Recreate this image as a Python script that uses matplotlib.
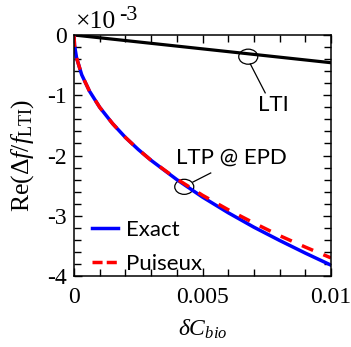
import matplotlib
matplotlib.use("Agg")
import matplotlib.pyplot as plt
from matplotlib.patches import Ellipse
from matplotlib.lines import Line2D
from matplotlib.ticker import MultipleLocator

# values (x in units of dC_bio, y in units of 1e-3)
dc = [0, 0.00002, 0.0001, 0.0003, 0.0006, 0.001, 0.0015, 0.002, 0.0025,
      0.003, 0.004, 0.005, 0.006, 0.007, 0.008, 0.009, 0.01]
exact = [0, -0.17, -0.38, -0.66, -0.93, -1.20, -1.47, -1.70, -1.90,
         -2.08, -2.40, -2.69, -2.95, -3.19, -3.41, -3.62, -3.82]
puiseux = [0, -0.17, -0.38, -0.66, -0.93, -1.20, -1.47, -1.70, -1.90,
           -2.08, -2.39, -2.66, -2.90, -3.12, -3.33, -3.52, -3.70]
lti_x = [0, 0.01]
lti_y = [0, -0.46]

xticks = [0, 0.005, 0.01]
xticklabels = ["0", "0.005", "0.01"]
yticks = [0, -1, -2, -3, -4]
yticklabels = ["0", "-1", "-2", "-3", "-4"]

plt.rcParams['font.family'] = 'Liberation Serif'
plt.rcParams['mathtext.fontset'] = 'custom'
plt.rcParams['mathtext.rm'] = 'Liberation Serif'
plt.rcParams['mathtext.it'] = 'Liberation Serif:italic'
plt.rcParams['axes.unicode_minus'] = False

W, H = 351, 347
fig = plt.figure(figsize=(W / 100, H / 100), dpi=100)
ax = fig.add_axes([74 / W, 1 - 276 / H, 257 / W, 241 / H])

ax.plot(lti_x, lti_y, color='black', lw=2.3)
ax.plot(dc, exact, color='blue', lw=2.5)
ax.plot(dc, puiseux, color='red', lw=2.5, dashes=(3.5, 3.2))

# circles marking the curves
ax.add_patch(Ellipse((0.00678, -0.36), 0.00074, 0.25, fill=False, color='black', lw=0.9))
ax.add_patch(Ellipse((0.00429, -2.52), 0.00074, 0.25, fill=False, color='black', lw=0.9))
ax.plot([0.00686, 0.00744], [-0.48, -0.96], color='black', lw=0.9)
ax.plot([0.00463, 0.00532], [-2.44, -2.29], color='black', lw=0.9)
ax.text(0.00775, -1.16, 'LTI', family='Lato', fontsize=16, ha='center', va='center')
ax.text(0.00613, -2.04, 'LTP @ EPD', family='Lato', fontsize=16, ha='center', va='center')

ax.set_xlim(0, 0.01)
ax.set_ylim(-4, 0)
ax.set_xticks(xticks)
ax.set_xticklabels(xticklabels)
ax.set_yticks(yticks)
ax.set_yticklabels(yticklabels)
ax.xaxis.set_minor_locator(MultipleLocator(0.001))
ax.yaxis.set_minor_locator(MultipleLocator(0.2))
ax.tick_params(which='both', direction='in', top=True, right=True, width=1.0,
               labelsize=17, pad=5)
ax.tick_params(axis='x', which='major', pad=8)
ax.tick_params(which='major', length=5.5)
ax.tick_params(which='minor', length=5)
for s in ax.spines.values():
    s.set_linewidth(1.1)

ax.set_xlabel(r'$\delta C_{bio}$', fontsize=17, labelpad=7)
ax.set_ylabel(r'$\mathrm{Re}(\Delta f/f_{\mathrm{LTI}})$', fontsize=18.5, labelpad=8)

# x10^-3 multiplier, exponent drawn at nearly full size
fig.text(76 / W, 1 - 28 / H, '\u00d710', fontsize=18.5, ha='left', va='baseline')
fig.text(119 / W, 1 - 20 / H, '-3', fontsize=16, ha='left', va='baseline')

handles = [Line2D([], [], color='blue', lw=2.5),
           Line2D([], [], color='red', lw=2.5, dashes=(2.9, 1.2))]
leg = ax.legend(handles, ['Exact', 'Puiseux'], loc='lower left',
                bbox_to_anchor=(0.07, 0.01), frameon=False,
                prop={'family': 'Lato', 'size': 16}, handlelength=1.15,
                handletextpad=0.4, labelspacing=0.6, borderaxespad=0,
                borderpad=0)

fig.savefig('out.png', dpi=100)
